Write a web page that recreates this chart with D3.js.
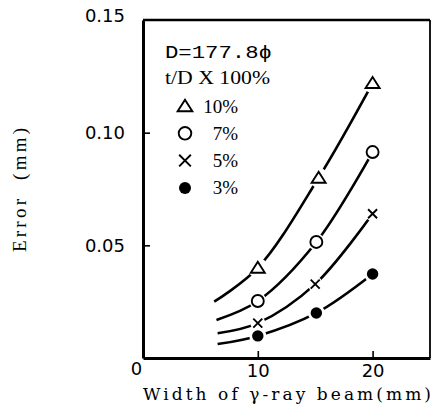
<!DOCTYPE html>
<html><head><meta charset="utf-8">
<script src="https://cdn.jsdelivr.net/npm/d3@7"></script>
<style>body{margin:0;background:#fff}svg{display:block}</style>
</head><body>
<script>
// ---- data ----
const seriesNames = ["10%", "7%", "5%", "3%"];
const seriesSymbols = ["triangle", "circle", "cross", "dot"];
const xTri = [10, 15.3, 20];
const xCirc = [10, 15.1, 20];
const xCross = [10, 15, 20];
const xDot = [10, 15.1, 20];
const yTri = [0.040, 0.080, 0.122];
const yCirc = [0.0253, 0.0515, 0.0914];
const yCross = [0.0155, 0.0328, 0.064];
const yDot = [0.0098, 0.020, 0.0373];
// where each drawn curve begins (left end, no marker)
const curveStartX = [6.2, 6.4, 6.5, 6.5];
const curveStartY = [0.025, 0.0169, 0.011, 0.0062];
const xTicks = [0, 10, 20];
const yTicks = [0.05, 0.10, 0.15];
const legendTitle1 = "D=177.8ϕ";
const legendTitle2 = "t/D X 100%";
const xLabel = "Width of γ-ray beam(mm)";
const yLabel = "Error  (mm)";

const W = 433, H = 418;
const svg = d3.select("body").append("svg").attr("width", W).attr("height", H);
const x = d3.scaleLinear([0, 25], [143, 430]);
const y = d3.scaleLinear([0, 0.15], [358, 20]);

const xsAll = [xTri, xCirc, xCross, xDot];
const ysAll = [yTri, yCirc, yCross, yDot];
const series = seriesNames.map((n, i) => ({
  name: n, sym: seriesSymbols[i],
  pts: xsAll[i].map((v, j) => [v, ysAll[i][j]]),
  start: [curveStartX[i], curveStartY[i]]
}));

// frame (top and right)
svg.append("line").attr("x1", x(0)).attr("x2", x(25)).attr("y1", y(0.15)).attr("y2", y(0.15))
  .attr("stroke", "#000").attr("stroke-width", 2.4);
svg.append("line").attr("x1", x(25)).attr("x2", x(25)).attr("y1", y(0.15)).attr("y2", y(0))
  .attr("stroke", "#000").attr("stroke-width", 1.8);

// axes
const xAxis = svg.append("g").attr("transform", `translate(0,${y(0)})`)
  .call(d3.axisBottom(x).tickValues(xTicks).tickSize(-7).tickSizeOuter(0).tickPadding(6).tickFormat(d3.format("d")));
const yAxis = svg.append("g").attr("transform", `translate(${x(0)},0)`)
  .call(d3.axisLeft(y).tickValues(yTicks).tickSize(-7).tickSizeOuter(0).tickPadding(18).tickFormat(d3.format(".2f")));
[xAxis, yAxis].forEach(g => {
  g.select(".domain").attr("stroke-width", 3);
  g.selectAll(".tick line").attr("stroke-width", 1.6);
  g.selectAll("text").attr("font-family", "DejaVu Sans").attr("font-size", 18).attr("fill", "#000");
});
xAxis.selectAll(".tick").filter(d => d === 0).select("text").attr("dx", -7).attr("dy", "0.62em");
xAxis.selectAll(".tick").filter(d => d === 0).select("line").remove();
yAxis.selectAll(".tick").filter(d => d === 0.15).select("line").remove();
yAxis.selectAll(".tick").filter(d => d === 0.15).select("text").attr("dy", "0.1em");

// curves
const line = d3.line().x(d => x(d[0])).y(d => y(d[1])).curve(d3.curveCatmullRom.alpha(0.5));
series.forEach(s => {
  svg.append("path").attr("d", line([s.start, ...s.pts]))
    .attr("fill", "none").attr("stroke", "#000").attr("stroke-width", 2.6);
});

function drawSymbol(g, sym, cx, cy, sc) {
  if (sym === "triangle") {
    const w = 7 * sc, h = 11 * sc;
    g.append("path").attr("d", `M${cx},${cy - h * 0.55}L${cx + w},${cy + h * 0.45}L${cx - w},${cy + h * 0.45}Z`)
      .attr("fill", "#fff").attr("stroke", "#000").attr("stroke-width", 1.9).attr("stroke-linejoin", "miter");
  } else if (sym === "circle") {
    g.append("circle").attr("cx", cx).attr("cy", cy).attr("r", 6 * sc)
      .attr("fill", "#fff").attr("stroke", "#000").attr("stroke-width", 1.9);
  } else if (sym === "cross") {
    const r = 4.5 * sc;
    g.append("path").attr("d", `M${cx - r},${cy - r}L${cx + r},${cy + r}M${cx - r},${cy + r}L${cx + r},${cy - r}`)
      .attr("stroke", "#000").attr("stroke-width", 1.9);
  } else {
    g.append("circle").attr("cx", cx).attr("cy", cy).attr("r", 5.7 * sc).attr("fill", "#000");
  }
}

// markers with white gaps
const mk = svg.append("g");
series.forEach(s => {
  s.pts.forEach(p => {
    const cx = x(p[0]), cy = y(p[1]);
    const hr = s.sym === "triangle" ? 10 : s.sym === "cross" ? 7.5 : 8.5;
    mk.append("circle").attr("cx", cx).attr("cy", cy).attr("r", hr).attr("fill", "#fff");
    drawSymbol(mk, s.sym, cx, cy, 1);
  });
});

// legend
const lg = svg.append("g");
lg.append("text").attr("x", 165).attr("y", 58).text(legendTitle1)
  .attr("font-family", "Liberation Mono").attr("font-size", 19).attr("textLength", 107).attr("lengthAdjust", "spacingAndGlyphs");
lg.append("text").attr("x", 165).attr("y", 84).text(legendTitle2)
  .attr("font-family", "Liberation Serif").attr("font-size", 19).attr("textLength", 105).attr("lengthAdjust", "spacingAndGlyphs");
series.forEach((s, i) => {
  const cy = 106 + i * 27.3;
  drawSymbol(lg, s.sym, 185, cy, s.sym === "cross" ? 1.3 : 1.05);
  lg.append("text").attr("x", 238).attr("y", cy + 6.5).attr("text-anchor", "end").text(s.name)
    .attr("font-family", "Liberation Serif").attr("font-size", 19);
});

// axis titles
svg.append("text").attr("x", 143).attr("y", 400).text(xLabel)
  .attr("font-family", "DejaVu Serif").attr("font-size", 17)
  .attr("textLength", 288).attr("lengthAdjust", "spacing");
svg.append("text").attr("transform", `translate(26,${190}) rotate(-90)`).attr("text-anchor", "middle")
  .text(yLabel).attr("font-family", "Liberation Serif").attr("font-size", 19)
  .attr("textLength", 124).attr("lengthAdjust", "spacing").style("white-space", "pre");
</script>
</body></html>
